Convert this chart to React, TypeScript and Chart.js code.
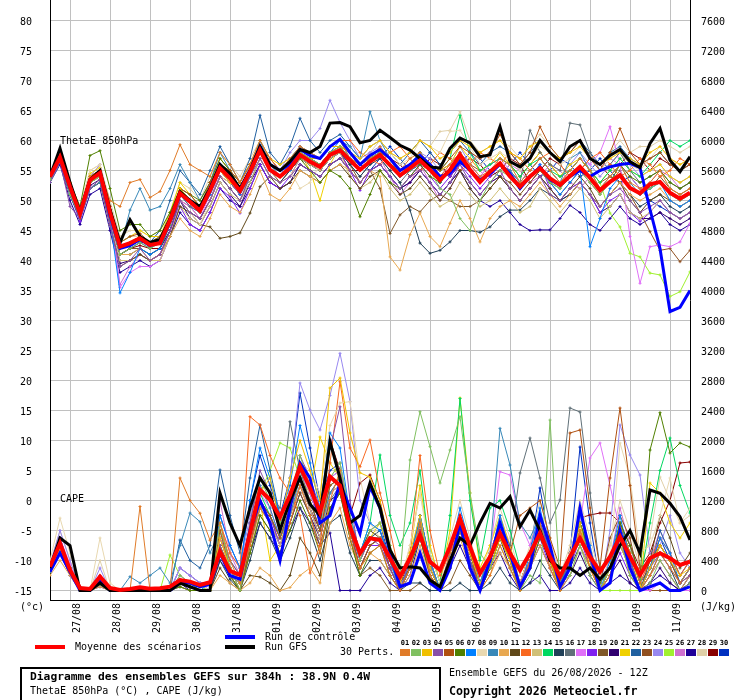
import React, { useEffect, useRef } from "react";
import { Chart, registerables } from "chart.js";

Chart.register(...registerables);

// ---------- axis / label data ----------
const DATE_LABELS = ["27/08", "28/08", "29/08", "30/08", "31/08", "01/09", "02/09", "03/09", "04/09", "05/09", "06/09", "07/09", "08/09", "09/09", "10/09", "11/09"];
const DATE_STEPS = [2, 6, 10, 14, 18, 22, 26, 30, 34, 38, 42, 46, 50, 54, 58, 62];
const LEFT_TICKS = [-15, -10, -5, 0, 5, 10, 15, 20, 25, 30, 35, 40, 45, 50, 55, 60, 65, 70, 75, 80];
const RIGHT_TICKS = [0, 400, 800, 1200, 1600, 2000, 2400, 2800, 3200, 3600, 4000, 4400, 4800, 5200, 5600, 6000, 6400, 6800, 7200, 7600];
const PERT_NAMES = ["01","02","03","04","05","06","07","08","09","10","11","12","13","14","15","16","17","18","19","20","21","22","23","24","25","26","27","28","29","30"];
const PERT_COLORS = ["#e07b28","#80c060","#f0c000","#8850a8","#b05010","#508000","#0080ff","#e8d8b0","#3888b8","#e8a850","#604818","#f86820","#d0c078","#00d860","#204058","#607078","#e070f8","#8020f0","#805828","#300070","#f0d000","#2060a0","#905020","#9888f0","#a0f030","#d070d0","#200098","#e0d0a8","#880000","#0030c0"];

// ---------- ThetaE 850hPa (°C), 65 steps of 6h ----------
const thetaMean = [54,57.2,52.3,47.8,53.4,54.6,48,42.3,42.9,43.7, 42.6,42.9,46.7,51.2,49.8,48.3,51.7,55.4,53.7,51.6, 54.8,58.4,55.1,54,55.4,57.6,56.5,55.6,57.6,58.4, 56.7,55.1,56.5,57.6,55.9,54.2,55.4,56.7,55.1,53.4, 55.1,57.6,55.1,53.1,54.8,56.2,54,52.3,54,55.4, 53.7,52.6,54.1,55.6,53.8,51.7,53.1,54.2,52.1,51.2, 52.7,53.1,51.3,50.3,51.3];
const thetaControl = [54,57,52,48,53.5,54.5,47.5,42,42.5,43.5, 42.5,43,46.5,51,50,48.5,52,56,54,52, 55,59,56,55,56,58.5,57.5,57,59,60.2, 58,56,57.5,58.5,57,55,56,57.5,56,54, 54.5,56.5,55,53.4,54.5,56,54.5,52,54,55.5, 53.5,52.5,54,55,54,55,55.6,56,56.2,55.5, 48.5,42,31.5,32.2,35];
const thetaGfs = [54,58.7,53,48,53.5,55,48.5,43,46.8,44, 43,43.5,47,51.5,50,49,52,56,54.5,52, 55,59,56,55,56.5,58.5,58,59,62.9,63, 62.3,59.6,60,61.7,60.5,59.2,58.4,57,55.6,55.4, 58.7,60.4,59.6,57.3,57.6,62.3,56.5,55.6,57,60, 58,56.5,59,60,57,56,57.5,58.5,56.5,55.5, 59.5,62,56.7,54.8,57.3];
const thetaP01 = [54,57,52,48,54,55,50,49,53,53.5, 50.5,51.5,55,59.3,56,55,54,58,56,53, 56,60,57,55,57,59,58,57,59,60, 57,56,57,59,57,55,57,58,56,54, 56,58,56,54,55,57,56,53,55,57, 55,53,55,57,55,52,54,56,53,52, 53,55,52,51,52];
const thetaP02 = [53.5,57,51,47.5,53,54,47,41,42,43, 42,43,46,51,50,48,52,56,54,52, 55,59,56,54,56,58,57,56,58,59, 57,55,57,58,56,54,55,57,55,52, 51,47,45,50,53,55,54,52,54,55, 53,52,54,55,53,51,53,54,52,51, 52,53,51,50,51];
const thetaP03 = [54.5,57.5,53,48,54,55,48,42,43,44, 43,43,47,52,50,49,52,55,53,52, 55,58,55,54,56,58,57,57,59,59, 58,57,59,60,58,57,58,60,59,57, 58,60,59,58,59,60,58,57,59,60, 58,57,58,59,57,56,57,58,57,56, 58,59,57,56,57];
const thetaP04 = [53,56.5,49,47,52,53.5,46,39,40,42, 40,41,45,50,48,47,50,54,52,50, 54,57,54,53,54,56,55,54,56,57, 55,53,55,56,54,52,54,55,53,51, 53,56,53,51,53,55,52,50,52,54, 51,50,52,53,51,49,51,52,50,48, 49,50,48,47,48];
const thetaP05 = [54,57.5,52.5,48.5,54,55,49,43,44,44.5, 43,44,47,52,51,49,53,56,55,53, 56,59,57,55,56,58,57,56,58,59, 58,56,57,58,57,55,56,57,56,55, 57,59,58,57,58,61,58,56,58,62.3, 59,57,58,60,57,55,58,62,58,56, 57,58,56,55,56];
const thetaP06 = [54,57,53,49,57.5,58.3,52,45,46,46, 44,45,48,52,51,50,53,57,55,53, 56,59,56,55,56,57,55,53,55,54, 52,47.3,51,55,53,52,54,56,54,53, 55,57,55,53,55,56,54,52,54,55, 53,52,54,55,54,52,53,56,54,53, 54,55,53,52,53];
const thetaP07 = [53.5,57,52,48,53,54.5,47,34.6,38,42, 41,42,46,51,50,48,51,55,54,51, 55,59,55,54,55,58,57,56,58,60, 57,55,57,58,56,54,55,57,55,53, 55,58,55,53,55,56,54,52,54,56, 53,51,53,55,42.3,47,52,54,52,51, 52,53,50,49,50];
const thetaP08 = [54.5,58,53,48.5,55,56,49,43,44,44, 43,44,47,50,48,46,50,54,53,52, 55,58,56,55,55,52,53,56,58,59, 58,57,59,60,58,56,57,60,59,58, 61.5,61.7,59,56,57,58,57,55,57,59, 58,56,57,59,57,55,57,58,56,55, 57,59,57,56,57];
const thetaP09 = [53,56.5,51,47,52,53,47,42,48.4,52, 48.4,49,52,56,53,50,53,58,55,52, 55,60,56,54,57,59,58,57,59,60, 59,57,64.8,60,57,54,56,58,55,53, 55,57,55,53,55,56,55,53,55,57, 55,53,57,58,55,52,54,56,53,51, 52,53,51,50,51];
const thetaP10 = [54,57,52,48,53,54,48,41,41,42, 40,41,44,47,45,44,47,51,49,48, 51,55,51,50,52,55,54,53,55,56, 55,53,55,54,40.6,38.4,44.3,47.9,44,42.3, 46.2,50,47,43.1,47,49,50,49,51,53, 51,49,51,53,51,49,51,53,51,50, 51,52,50,49,50];
const thetaP11 = [53.5,56.5,51,47,52,53,46,39,40,41, 40,41,44,49,48,46,45.6,43.7,44,44.6, 47.9,52.3,54,52,53,55,54,53,55,56, 54,52,54,55,53,51,52,54,52,50, 52,55,52,50,52,54,52,50,52,54, 52,50,52,54,52,49,51,53,50,48, 50,51,50,49,50];
const thetaP12 = [54,57.5,52.5,48,54,55,48,42,43,44, 43,43,47,51,50,48,52,56,54,52, 55,59,56,55,56,59,58,57,59,60, 60,58,57,56,58,59,57,55,56,58, 57,55,56,58,57,56,58,57,55,57, 58,56,54,55,57,58,56,54,55,57, 56,54,55,57,56];
const thetaP13 = [53,56.5,51.5,47,52,53,46,40,40,41, 40,40,44,49,47,46,49,53,51,50, 53,57,54,53,54,57,56,55,57,58, 54,52,53,55,52,50,51,53,51,49, 50,53,51,49,50,52,50,48,49,52, 50,48,50,52,50,47,49,51,48,47, 48,50,48,47,48];
const thetaP14 = [54,57,52,48,54,55,48,43,44,44, 43,44,47,52,50,48,52,56,54,52, 55,59,56,55,56,58,57,56,58,59, 57,55,57,58,56,55,56,58,56,55, 57,64.2,58,55,56,57,56,54,56,57, 55,54,55,57,55,53,55,57,55,54, 56,58,60,59,60];
const thetaP15 = [53,56.5,51,47,52,53,47,41,41,42, 41,42,45,50,48,47,50,54,52,50, 53,57,54,53,55,57,56,55,57,58, 56,54,56,57,55,53,48.4,42.9,41.2,41.7, 43.1,45,45,44.7,45.6,47.3,48.4,48.4,50,52, 51,50,51,53,51,49,51,53,51,49, 50,51,49,48,49];
const thetaP16 = [54,57,52,48,53,54,48,42,43,44, 42,43,46,51,49,48,51,55,53,51, 54,58,55,54,55,57,56,55,57,58, 56,54,56,57,55,53,55,56,55,53, 55,57,55,53,55,56,55,53,61.7,58, 56,55,62.9,62.6,58,55,56,58,55,53, 54,55,53,52,53];
const thetaP17 = [54,57,52.5,48,54,55,48,35.5,38,39, 39,40,44,50,49,47,51,55,53,51, 55,59,56,54,56,58,57,56,58,59, 57,55,57,58,56,54,56,58,56,54, 56,58,56,54,56,57,55,53,55,57, 55,53,55,57,56,58,62.3,56,44,36.2, 42.3,42.6,42.3,43.1,46.2];
const thetaP18 = [53.5,56.5,51,46.5,52,53,46,40,40,41, 40,41,45,49,46,45,48,52,50.6,47.9, 52,56,53,52,54,57,56,55,57,58, 55,51.7,55,56,54,52,54,56,54,52, 54,56,54,52,54,56,54,52,54,56, 52,50,52,53,51,48,50,51,48,46.5, 48,50,48,47,48];
const thetaP19 = [54,57,52,47.5,53,54,47,41,42,42, 41,42,45,50,49,47,50,54,52,50, 54,58,55,53,55,57,56,55,57,58, 56,53,55,52,44.5,47.6,49,48.1,50,51, 50,49,49,50,52,54,53,51,53,55, 53,51,53,55,53,51,53,55,52,51, 52,54,52,51,52];
const thetaP20 = [53.5,56.5,51,47,52.5,53.5,46,39.5,40,41, 40,41,45,50,47,46,49,53,51,49, 53,56,53,52,53,56,55,54,56,57, 55,53,55,56,54,52,53,55,53,51, 53,55,53,51,53,54,52,50,52,54, 52,50,51,53,51,48,49,51,48,47, 47,48,47,46,47];
const thetaP21 = [54.5,58,53,48.5,54.5,55.5,49,43,44,45, 44,44,48,53,51,49,53,57,55,53, 56,60,57,56,57,58,55,50,56,59, 57,56,57,58,57,55,56,58,56,55, 56,59,57,55,56,58,56,54,56,58, 56,54,56,57,55,53,55,57,55,54, 55,56,54,53,54];
const thetaP22 = [53,56.5,51.5,47,52,53,47,41,42,43, 43,45,50,55,53,51,55,59,56,53, 57,64.2,58,56,59,63.7,60,58,60,61, 59,57,59,60,58,56,58,60,58,56, 58,60,58,56,58,59,58,56,58,60, 58,57,58,60,58,56,58,59,57,56, 57,58,56,55,56];
const thetaP23 = [54,57,52,48,54,55,48,42,43,44, 43,43,47,51,50,48,52,56,54,52, 55,59,56,55,56,58,57,56,58,59, 57,56,57,58,57,55,56,57,56,55, 56,58,56,55,56,57,56,54,56,58, 56,54,55,57,55,53,54,53,51,48, 44.8,41.7,42,39.8,41.7];
const thetaP24 = [54,57.5,52,48,54,56,49,42,43,44, 43,44,47,52,51,49,53,57,55,52, 56,60,57,55,58,60,60,62,66.7,63, 60,57,58,59,57,55,56,58,57,55, 56,59,56,54,56,57,56,54,56,58, 56,54,56,58,56,54,56,58,56,54, 55,56,54,53,54];
const thetaP25 = [54,57,52,48,54,55,48,42,43,44, 43,44,47,52,50,48,52,56,54,52, 55,59,56,55,56,58,57,56,58,59, 57,55,57,58,56,54,55,57,55,53, 55,57,55,53,55,56,55,53,55,57, 55,53,55,57,55,53,47.9,45.6,41.2,40.6, 37.9,37.6,34,34.8,38.1];
const thetaP26 = [54,57,52,47.5,53.5,55,48,36,39,41, 40,41,45,50,48,47,50,55,53,51, 54,58,55,54,55,58,56,55,57,58, 57,56,58,57,54,51,53,56,53,50, 52,55,57,55,53,54,56,55,53,54, 56,55,53,52,54,55,57,56,54,52, 53,55,54,52,53];
const thetaP27 = [53,56,50,46,51,52,45,38,39,40, 39,40,44,48,46,45,48,52,50,49, 52,56,53,52,53,56,55,54,56,57, 55,53,55,56,54,52,53,55,53,51, 53,55,52,50,49,50,48,46,45,45.1, 45.1,47,49.2,48,46,45,47,49,47,46, 47,48,46,45,46];
const thetaP28 = [54.5,58,53,49,55,56,50,44,45,45, 44,45,48,53,52,50,54,58,56,54, 57,60,57,56,57,59,58,57,59,60, 58,57,58,60,58,57,58,60,59,61.5, 61.7,64.8,60,58,59,60,59,57,59,61, 59,57,59,60,58,56,58,60,58,59, 59,60,59,58,59];
const thetaP29 = [53.5,57,51.5,47.5,53,54,47,41,42,42.5, 42,42,46,50,48,47,50,54,53,51, 54,58,55,54,55,57,56,55,57,58, 55,55,57,58,57,56,54,55,57,56, 54,56,57,56,54,55,57,56,53,55, 57,56,54,55,57,56,54,56,58,57, 55,57,56,55,56];
const thetaP30 = [54,57.5,52,48,54,55,48,41,42,43, 42,42,46,51,49,48,51,55,53,51, 55,59,56,55,56,59,58,57,59,60, 58,56,55,57,59,57,55,56,58,56, 54,56,58,57,55,54,56,58,56,54, 55,57,56,54,55,57,55,53,54,52, 50,49,48,47,48];

// ---------- CAPE (J/kg), 65 steps of 6h ----------
const capeMean = [317,629,273,33,20,184,33,7,20,43, 25,30,51,140,118,73,110,518,262,207, 767,1340,1210,980,1270,1650,1370,1040,1518,1400, 851,496,696,673,429,184,429,740,384,273, 584,962,584,229,451,762,496,273,496,762, 451,184,451,696,451,251,451,718,451,207, 429,496,429,340,384];
const capeControl = [250,500,250,0,0,150,0,0,0,0, 0,0,0,100,100,50,80,500,200,150, 800,1200,900,400,1100,1700,1500,900,1000,1430, 1100,760,1384,1100,500,50,100,500,100,0, 300,900,300,0,400,900,500,50,300,1000, 600,50,300,1100,500,0,100,800,300,0, 50,100,0,0,50];
const capeGfs = [300,700,600,0,0,100,0,0,0,0, 0,0,0,100,50,0,0,1300,900,600, 1100,1500,1300,800,1200,1500,1150,1000,1984,1500, 900,1000,1433,1100,540,300,318,300,140,51, 400,700,600,900,1162,1100,1251,851,1073,800, 400,300,300,200,300,150,300,600,800,500, 1340,1296,1162,984,673];
const capeP01 = [300,600,300,0,0,100,0,0,0,1120, 0,0,0,1500,1200,1030,670,900,400,100, 600,1100,900,400,900,1400,1000,500,1200,1600, 700,300,500,600,200,0,300,900,200,0, 500,800,300,0,200,600,300,0,400,900, 300,0,300,800,300,0,200,700,300,0, 200,500,300,100,300];
const capeP02 = [250,500,250,0,0,80,0,0,0,0, 0,0,0,200,100,0,0,900,300,0, 700,1500,1200,900,1200,1800,1400,900,1500,1700, 1000,400,800,900,600,200,1740,2384,1918,1433, 1873,2318,1300,500,300,600,300,0,200,100, 2273,100,200,600,200,0,300,700,200,0, 100,400,200,0,100];
const capeP03 = [300,550,250,0,0,100,0,0,0,0, 0,0,0,100,50,0,0,700,300,100, 800,1300,1500,900,1500,2000,1600,1200,2700,2833, 2100,1570,1510,1200,600,100,500,1000,300,0, 400,900,500,100,300,700,400,0,300,800, 400,0,300,900,300,0,300,700,200,0, 300,600,400,200,300];
const capeP04 = [350,700,300,50,0,150,0,0,0,0, 0,0,0,150,100,50,100,600,200,100, 900,1600,1300,900,1100,1800,1500,1100,1900,2450, 1200,400,700,600,300,0,400,800,300,0, 500,1000,400,0,400,800,500,100,400,900, 500,0,400,700,400,0,300,800,400,0, 300,500,300,100,200];
const capeP05 = [300,600,300,0,0,100,0,0,0,0, 0,0,0,100,50,0,0,800,300,0, 600,1200,1000,700,1100,1500,1200,800,1400,1500, 800,300,600,700,300,0,300,800,200,0, 400,900,500,0,400,700,500,1000,1100,1200, 700,300,2100,2140,1100,300,1500,2433,1400,300, 400,600,400,100,200];
const capeP06 = [300,600,250,0,0,100,0,0,0,0, 0,0,0,50,0,0,0,600,200,0, 500,1000,800,500,800,1200,900,500,1100,1300, 700,200,500,600,200,0,300,700,200,0, 300,800,400,0,300,700,400,0,300,700, 400,0,400,900,500,100,300,900,600,200, 1873,2371,1833,1967,1913];
const capeP07 = [250,550,250,0,0,100,0,0,0,0, 0,0,0,100,100,0,100,1000,600,300, 1200,1900,1500,1000,1400,2200,1700,1100,2100,1900, 1000,500,900,800,400,0,400,1000,400,0, 500,1100,600,100,400,1000,500,0,500,1100, 500,0,400,1000,600,0,400,1000,400,0, 300,700,500,100,300];
const capeP08 = [400,965,500,50,0,700,100,0,0,0, 0,0,0,200,100,0,0,800,300,100, 800,1500,1300,900,1300,1700,1600,1300,2200,2500, 2518,1500,900,700,400,100,600,1300,500,100, 500,900,600,200,500,900,500,100,500,1000, 600,200,500,1000,600,100,400,1967,1500,500, 600,1000,1500,900,1100];
const capeP09 = [300,600,250,0,0,100,0,0,184,100, 200,300,100,600,1033,917,500,800,300,100, 800,1400,1100,700,1000,1500,1200,800,1300,1500, 800,400,700,700,300,0,300,900,300,0, 400,800,400,100,500,2162,1673,900,700,1000, 500,100,400,900,400,100,300,800,400,0, 300,600,400,100,300];
const capeP10 = [200,400,200,0,0,50,0,0,0,0, 0,0,0,50,0,0,0,200,100,0, 100,300,200,0,40,200,300,100,900,1100, 600,300,500,400,200,0,200,600,200,0, 300,700,300,0,200,500,300,0,300,600, 300,0,200,600,300,0,200,600,300,0, 200,400,200,0,200];
const capeP11 = [300,600,300,0,0,100,0,0,0,0, 0,0,0,100,50,0,0,300,100,0, 200,180,100,0,200,700,500,200,1100,1300, 900,500,800,700,400,100,300,800,300,0, 400,900,500,100,400,800,500,0,400,900, 500,100,400,900,500,0,300,800,400,0, 400,1000,700,300,500];
const capeP12 = [300,600,300,0,0,100,0,0,0,0, 0,0,0,100,50,0,0,900,500,300, 2318,2207,1800,1500,1300,1000,233,600,1700,2784, 1900,1651,2007,1300,800,200,500,1800,800,200, 500,900,500,100,400,800,400,0,300,800, 400,0,400,800,500,0,300,900,500,100, 400,700,500,200,400];
const capeP13 = [300,650,300,0,0,200,0,0,0,0, 0,0,0,100,50,0,0,600,200,0, 500,1100,900,600,1000,1400,1100,700,1300,1400, 900,400,700,700,400,0,400,900,400,0, 500,1000,500,100,500,900,500,100,400,900, 400,0,300,800,400,0,300,800,300,0, 300,600,400,100,300];
const capeP14 = [300,600,300,0,0,100,0,0,0,0, 0,0,0,100,50,0,0,800,300,100, 700,1300,1000,700,1100,1500,1200,800,1400,1500, 800,500,900,1807,1000,600,900,1600,500,100, 1000,2560,1200,400,1100,1200,800,300,500,900, 500,100,400,900,400,0,300,900,500,100, 900,1600,2033,1400,1033];
const capeP15 = [250,500,250,0,0,80,0,0,0,0, 0,0,0,50,0,0,0,400,150,0, 400,900,700,400,700,1100,800,400,900,1000, 500,200,400,400,200,0,100,100,0,0, 0,100,0,0,100,300,100,0,100,400, 200,0,300,600,300,0,200,600,300,0, 200,500,300,0,200];
const capeP16 = [300,600,300,0,0,100,0,0,0,0, 0,0,0,100,50,0,0,800,400,200, 900,1500,1300,1100,2251,1600,1200,800,1200,1400, 700,300,600,700,300,0,300,800,300,0, 400,800,400,100,400,900,600,1567,2033,1500, 900,1207,2433,2380,1300,300,400,800,400,0, 300,600,400,100,300];
const capeP17 = [300,700,350,0,0,150,0,0,0,0, 0,0,0,100,50,0,0,700,300,100, 800,1300,1100,700,1100,1600,1300,900,1500,1600, 900,400,700,700,300,0,300,800,300,0, 400,900,500,100,500,1584,1540,900,600,1000, 500,100,400,900,1767,1967,1400,800,300,0, 0,100,0,0,0];
const capeP18 = [350,700,300,0,0,200,0,0,0,0, 0,0,0,200,100,0,0,700,400,200, 600,1200,1000,600,1000,1400,1100,700,1300,1400, 800,300,600,600,300,0,300,800,300,0, 400,800,400,0,400,800,400,0,300,700, 300,0,300,700,300,0,200,500,200,0, 200,400,200,0,200];
const capeP19 = [300,600,300,0,0,100,0,0,0,0, 0,0,0,100,50,0,0,600,200,0, 500,1000,800,500,900,1300,1000,600,1100,1300, 700,200,300,200,0,0,0,100,0,0, 100,400,200,0,300,700,400,0,300,800, 400,0,300,800,400,0,300,800,400,0, 300,600,400,100,300];
const capeP20 = [300,650,300,0,0,100,0,0,0,0, 0,0,0,100,50,0,0,500,200,0, 600,1100,900,600,900,1300,1000,700,1200,1300, 800,300,600,700,300,0,300,900,300,0, 400,800,400,0,300,700,300,0,300,600, 300,0,200,500,200,0,200,400,100,0, 100,300,100,0,100];
const capeP21 = [300,600,300,0,0,100,0,0,0,0, 0,0,0,100,50,0,0,500,200,0, 600,1200,400,600,1100,1500,1300,2047,1700,1500, 900,400,700,900,500,100,500,1400,600,100, 800,2567,1300,300,600,1000,600,100,500,900, 400,0,400,1000,500,0,300,900,500,0, 1433,1300,900,700,900];
const capeP22 = [300,600,300,0,0,100,0,0,0,0, 0,0,0,673,400,300,600,1607,1000,500, 1500,2207,1600,1000,1300,1700,1300,900,1500,1600, 900,400,700,800,400,0,400,1000,400,0, 500,1000,500,100,400,800,500,0,400,900, 400,0,400,1100,500,0,300,900,500,100, 300,800,500,200,400];
const capeP23 = [300,600,300,0,0,100,0,0,0,0, 0,0,0,100,50,0,0,600,300,100, 700,1200,1000,600,1000,1400,1100,700,1300,1500, 900,400,700,800,400,0,400,900,400,0, 500,900,500,100,500,900,500,100,500,1000, 500,100,500,900,500,100,700,1000,700,100, 0,0,0,0,0];
const capeP24 = [350,800,400,0,0,300,0,0,0,0, 0,0,0,300,200,100,100,900,500,300, 1000,1500,1300,900,1500,2767,2407,2140,2600,3162, 2518,1200,900,800,400,0,400,900,400,0, 500,900,500,100,400,900,500,100,400,900, 400,0,300,900,500,0,800,2207,1807,1540, 500,600,1000,500,300];
const capeP25 = [300,600,300,0,0,100,0,0,0,0, 0,0,473,200,100,50,0,500,200,100, 700,1300,1600,1967,1900,1500,1100,700,1200,1300, 800,300,600,700,400,0,300,800,300,0, 400,900,500,100,400,800,500,100,400,800, 400,0,300,800,400,0,0,0,0,0, 0,0,0,0,0];
const capeP26 = [300,700,300,0,0,150,0,0,0,0, 0,0,0,300,200,100,0,1200,500,200, 800,1400,1200,800,1200,1600,1300,900,1400,1500, 900,400,700,700,300,0,300,800,300,0, 400,800,400,0,400,1000,600,100,400,900, 400,0,300,1000,600,100,400,1100,600,100, 400,800,500,200,400];
const capeP27 = [250,500,200,0,0,50,0,0,0,0, 0,0,0,100,0,0,0,400,200,0, 500,900,700,500,800,1100,900,600,767,0, 0,0,200,300,100,0,200,700,200,0, 300,600,300,0,300,500,200,0,100,200, 0,0,100,300,100,0,100,200,100,0, 100,200,100,0,100];
const capeP28 = [350,800,400,50,0,400,0,0,0,0, 0,0,0,200,100,0,0,800,400,200, 800,1400,1200,800,1200,1600,1300,900,1500,1700, 1000,500,800,900,500,100,600,1300,600,100, 700,1200,700,200,600,1100,700,200,600,1200, 700,200,600,1200,700,200,600,1200,800,300, 700,1513,1200,900,1000];
const capeP29 = [300,600,300,0,0,100,0,0,0,0, 0,0,0,100,50,0,0,700,300,100, 700,1200,1000,700,1000,1400,1100,800,2007,1600, 1000,1433,1540,1200,500,100,400,900,400,0, 500,900,500,100,500,900,500,100,500,900, 500,200,500,967,1007,1033,1033,900,600,300, 500,900,1200,1700,1713];
const capeP30 = [300,600,300,0,0,100,0,0,0,0, 0,0,0,300,200,100,100,1000,600,300, 1200,1800,1400,1000,1500,2633,1900,1200,1600,1700, 1000,500,800,900,400,0,400,1000,400,0, 500,1000,500,100,400,900,500,100,500,1367, 600,0,500,1913,900,100,400,900,400,0, 300,700,400,100,300];

const THETA_PERTS = [thetaP01,thetaP02,thetaP03,thetaP04,thetaP05,thetaP06,thetaP07,thetaP08,thetaP09,thetaP10,thetaP11,thetaP12,thetaP13,thetaP14,thetaP15,thetaP16,thetaP17,thetaP18,thetaP19,thetaP20,thetaP21,thetaP22,thetaP23,thetaP24,thetaP25,thetaP26,thetaP27,thetaP28,thetaP29,thetaP30];
const CAPE_PERTS = [capeP01,capeP02,capeP03,capeP04,capeP05,capeP06,capeP07,capeP08,capeP09,capeP10,capeP11,capeP12,capeP13,capeP14,capeP15,capeP16,capeP17,capeP18,capeP19,capeP20,capeP21,capeP22,capeP23,capeP24,capeP25,capeP26,capeP27,capeP28,capeP29,capeP30];

const MONO = '"DejaVu Sans Mono", monospace';

const toPts = (arr: number[]) => arr.map((v, i) => ({ x: i, y: v }));

const textPlugin = {
  id: "meteoText",
  afterDraw(chart: any) {
    const ctx = chart.ctx;
    const xs = chart.scales.x;
    ctx.save();
    ctx.fillStyle = "#000";
    ctx.textBaseline = "middle";
    // date labels (rotated)
    ctx.font = `10px ${MONO}`;
    DATE_STEPS.forEach((s, k) => {
      const px = xs.getPixelForValue(s);
      ctx.save();
      ctx.translate(px + 7, 603);
      ctx.rotate(-Math.PI / 2);
      ctx.textAlign = "right";
      ctx.fillText(DATE_LABELS[k], 0, 0);
      ctx.restore();
    });
    ctx.textAlign = "left";
    ctx.fillText("(°c)", 20, 607);
    ctx.fillText("(J/kg)", 700, 607);
    ctx.fillText("ThetaE 850hPa", 60, 141);
    ctx.fillText("CAPE", 60, 499);

    // legend lines
    ctx.lineCap = "butt";
    ctx.lineWidth = 4;
    ctx.strokeStyle = "#ff0000";
    ctx.beginPath(); ctx.moveTo(35, 647); ctx.lineTo(65, 647); ctx.stroke();
    ctx.strokeStyle = "#0000ff";
    ctx.beginPath(); ctx.moveTo(225, 637); ctx.lineTo(255, 637); ctx.stroke();
    ctx.strokeStyle = "#000000";
    ctx.beginPath(); ctx.moveTo(225, 647); ctx.lineTo(255, 647); ctx.stroke();
    ctx.fillText("Moyenne des scénarios", 75, 647);
    ctx.fillText("Run de contrôle", 265, 637);
    ctx.fillText("Run GFS", 265, 647);
    ctx.fillText("30 Perts.", 340, 652);

    // perturbation colour boxes
    ctx.font = `bold 7px ${MONO}`;
    ctx.textAlign = "center";
    PERT_NAMES.forEach((n, k) => {
      const bx = 400 + 11 * k;
      ctx.fillStyle = "#000";
      ctx.fillText(n, bx + 5, 643);
      ctx.fillStyle = PERT_COLORS[k];
      ctx.fillRect(bx, 649, 10, 7);
    });

    // footer
    ctx.fillStyle = "#000";
    ctx.textAlign = "left";
    ctx.lineWidth = 2;
    ctx.strokeStyle = "#000";
    ctx.strokeRect(21, 668, 419, 40);
    ctx.font = `bold 11.3px ${MONO}`;
    ctx.fillText("Diagramme des ensembles GEFS sur 384h : 38.9N 0.4W", 30, 677);
    ctx.font = `10px ${MONO}`;
    ctx.fillText("ThetaE 850hPa (°C) , CAPE (J/kg)", 30, 691);
    ctx.fillText("Ensemble GEFS du 26/08/2026 - 12Z", 449, 673);
    ctx.font = `bold 11.6px ${MONO}`;
    ctx.fillText("Copyright 2026 Meteociel.fr", 449, 692);
    ctx.restore();
  },
};

export default function App() {
  const ref = useRef<HTMLCanvasElement | null>(null);

  useEffect(() => {
    if (!ref.current) return;
    const datasets: any[] = [];
    THETA_PERTS.forEach((arr, k) => {
      datasets.push({
        data: toPts(arr), yAxisID: "y", borderColor: PERT_COLORS[k], backgroundColor: PERT_COLORS[k],
        borderWidth: 1, pointStyle: "cross", pointRadius: 1.5, pointBorderWidth: 1, order: 3,
      });
    });
    CAPE_PERTS.forEach((arr, k) => {
      datasets.push({
        data: toPts(arr), yAxisID: "y2", borderColor: PERT_COLORS[k], backgroundColor: PERT_COLORS[k],
        borderWidth: 1, pointStyle: "cross", pointRadius: 1.5, pointBorderWidth: 1, order: 3,
      });
    });
    datasets.push({ data: toPts(thetaControl), yAxisID: "y", borderColor: "#0000ff", borderWidth: 3, pointRadius: 0, order: 2 });
    datasets.push({ data: toPts(capeControl), yAxisID: "y2", borderColor: "#0000ff", borderWidth: 3, pointRadius: 0, order: 2 });
    datasets.push({ data: toPts(thetaGfs), yAxisID: "y", borderColor: "#000000", borderWidth: 3, pointRadius: 0, order: 1 });
    datasets.push({ data: toPts(capeGfs), yAxisID: "y2", borderColor: "#000000", borderWidth: 3, pointRadius: 0, order: 1 });
    datasets.push({ data: toPts(thetaMean), yAxisID: "y", borderColor: "#ff0000", borderWidth: 4, pointRadius: 0, order: 0 });
    datasets.push({ data: toPts(capeMean), yAxisID: "y2", borderColor: "#ff0000", borderWidth: 4, pointRadius: 0, order: 0 });

    const chart = new Chart(ref.current, {
      type: "line",
      data: { datasets },
      options: {
        animation: false,
        responsive: false,
        devicePixelRatio: 1,
        events: [],
        layout: { padding: 0, autoPadding: false } as any,
        elements: { line: { tension: 0, fill: false } },
        plugins: { legend: { display: false }, tooltip: { enabled: false }, title: { display: false } },
        scales: {
          x: {
            type: "linear", min: 0, max: 64,
            afterBuildTicks: (s: any) => { s.ticks = DATE_STEPS.map((v) => ({ value: v })); },
            afterFit: (s: any) => { s.height = 100; s.paddingLeft = 0; s.paddingRight = 0; },
            ticks: { display: false },
            grid: { color: "#c0c0c0", drawTicks: false, lineWidth: 1 },
            border: { display: true, color: "#000", width: 1 },
          },
          y: {
            type: "linear", position: "left", min: -16.583, max: 83.417,
            afterBuildTicks: (s: any) => { s.ticks = LEFT_TICKS.map((v) => ({ value: v })); },
            afterFit: (s: any) => { s.width = 50; s.paddingTop = 0; s.paddingBottom = 0; },
            ticks: { color: "#000", font: { family: MONO, size: 10 }, padding: 18, labelOffset: 2, callback: (v: any) => String(v) },
            grid: { color: "#c0c0c0", drawTicks: false, lineWidth: 1 },
            border: { display: true, color: "#000", width: 1 },
          },
          y2: {
            type: "linear", position: "right", min: -126.67, max: 7873.33,
            afterBuildTicks: (s: any) => { s.ticks = RIGHT_TICKS.map((v) => ({ value: v })); },
            afterFit: (s: any) => { s.width = 50; s.paddingTop = 0; s.paddingBottom = 0; },
            ticks: { color: "#000", font: { family: MONO, size: 10 }, padding: 11, labelOffset: 2, callback: (v: any) => String(v) },
            grid: { display: false, drawTicks: false },
            border: { display: true, color: "#000", width: 1 },
          },
        },
      } as any,
      plugins: [textPlugin],
    });
    return () => chart.destroy();
  }, []);

  return (
    <div style={{ position: "absolute", left: 0, top: 0, width: 740, height: 700, background: "#fff" }}>
      <canvas ref={ref} width={740} height={700} style={{ display: "block", width: 740, height: 700 }} />
    </div>
  );
}
